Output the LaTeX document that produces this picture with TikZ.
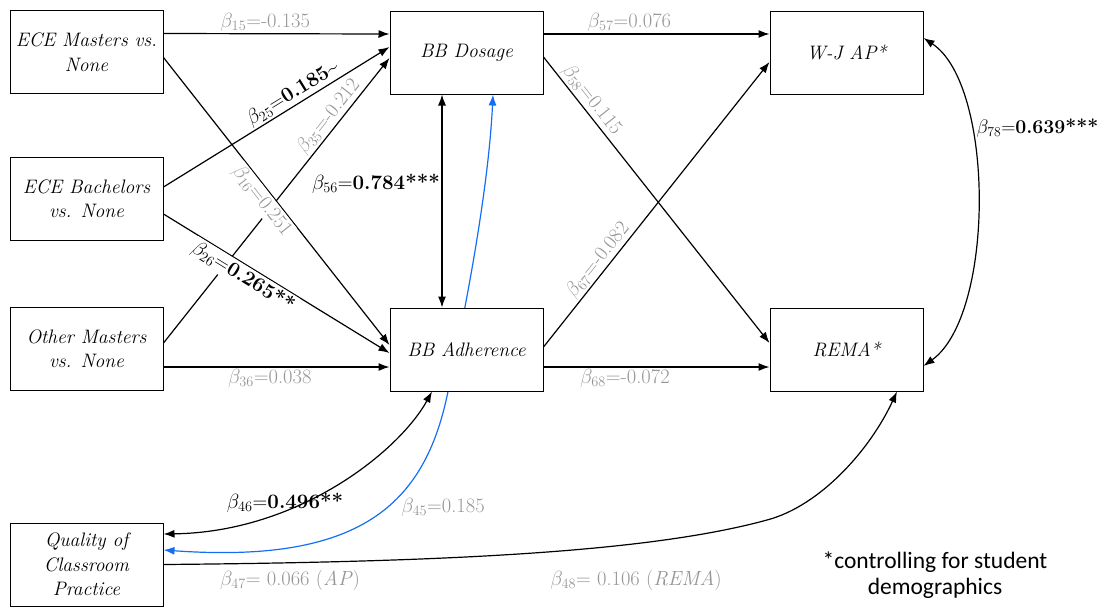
\RequirePackage{fix-cm}
\documentclass[tikz,border=0pt]{standalone}
\usepackage{fontspec}
\newfontfamily\notefont{Carlito}
\usetikzlibrary{arrows.meta,backgrounds}
\definecolor{lbl}{RGB}{150,150,150}
\definecolor{bluepath}{RGB}{20,110,245}
% coefficient symbol with a subscript index
\newcommand{\bsub}[1]{$\beta_{#1}$}
\begin{document}
\begin{tikzpicture}[x=1pt,y=-1pt,
  >={Latex[length=11pt,width=8pt]},
  box/.style={draw, line width=1pt, fill=white, minimum width=153pt, minimum height=83pt,
    inner sep=1pt, align=center, font=\fontsize{19.5}{24.5}\selectfont\itshape},
  conn/.style={line width=1.2pt},
  lab/.style={font=\fontsize{20.5}{22}\selectfont, text=lbl, inner sep=1.5pt},
  sig/.style={font=\fontsize{20.5}{22}\selectfont, text=black, inner sep=1.5pt},
  notetext/.style={font=\notefont\fontsize{23.5}{26}\selectfont, align=center}]
\useasboundingbox (0,0) rectangle (1103,606);

% variables
\node[box] (m1) at (86.5,52) {ECE Masters vs.\\None};
\node[box] (b1) at (86.5,198.5) {ECE Bachelors\\vs. None};
\node[box] (o1) at (86.5,348.5) {Other Masters\\vs. None};
\node[box] (q) at (86.5,564.5) {Quality of\\Classroom\\Practice};
\node[box] (dos) at (466.5,52.5) {BB Dosage};
\node[box] (adh) at (466.5,349.5) {BB Adherence};
\node[box] (wj) at (846.5,52.5) {W-J AP*};
\node[box] (rema) at (846.5,349.5) {REMA*};

% paths into BB Dosage
\draw[conn,->] ([yshift=18.5]m1.east) -- node[lab, above, pos=0.45] {\bsub{15}=-0.135} ([yshift=18.5]dos.west);
\draw[conn,->] ([yshift=5.5]o1.east) -- node[lab, sloped, above, pos=0.77] {\bsub{35}=-0.212} ([yshift=-5.5]dos.west);
\draw[conn,->] ([yshift=11.5]b1.east) -- node[sig, sloped, above, pos=0.6] {\bsub{25}=\textbf{0.185\textasciitilde}} ([yshift=5.5]dos.west);

% paths into BB Adherence
\draw[conn,->] ([yshift=-5.5]m1.east) -- node[lab, sloped, below, pos=0.475, fill=white] {\bsub{16}=0.251} ([yshift=4.5]adh.west);
\draw[conn,->] ([yshift=-15.5]b1.east) -- node[sig, sloped, below, pos=0.38, fill=white] {\bsub{26}=\textbf{0.265**}} ([yshift=-3.5]adh.west);
\draw[conn,->] ([yshift=-18.5]o1.east) -- node[lab, below, pos=0.47] {\bsub{36}=0.038} ([yshift=-17.5]adh.west);

% dosage -- adherence
\draw[conn,<->] ([xshift=-24.5]dos.south) -- node[sig, left, pos=0.42] {\bsub{56}=\textbf{0.784***}} ([xshift=-24.5]adh.north);

% paths into the outcomes
\draw[conn,->] ([yshift=18.5]dos.east) -- node[lab, above, pos=0.38] {\bsub{57}=0.076} ([yshift=18.5]wj.west);
\draw[conn,->] ([yshift=-4.5]dos.east) -- node[lab, sloped, above, pos=0.175] {\bsub{58}=0.115} ([yshift=6.5]rema.west);
\draw[conn,->] ([yshift=2.5]adh.east) -- node[lab, sloped, above, pos=0.28] {\bsub{67}=-0.082} ([yshift=-9.5]wj.west);
\draw[conn,->] ([yshift=-17.5]adh.east) -- node[lab, below, pos=0.36] {\bsub{68}=-0.072} ([yshift=-17.5]rema.west);

% outcome covariance
\draw[conn,<->] ([yshift=14.5]wj.east) .. controls (995,85) and (995,315) .. ([yshift=-16.5]rema.east);
\node[sig, anchor=west, font=\fontsize{19.5}{22}\selectfont] (l78) at (975,128) {\bsub{78}=\textbf{0.639***}};

% classroom practice paths
\begin{pgfonlayer}{background}
\draw[conn, bluepath, <->] ([yshift=14.5]q.east) .. controls (360,564) and (425,505) .. ([xshift=-18.5]adh.south)
  .. controls (460,334) and (488,200) .. ([xshift=26.5]dos.south);
\end{pgfonlayer}
\draw[conn,<->] ([yshift=30.5]q.east) .. controls (300,532) and (400,450) .. ([xshift=-34.5]adh.south);
\coordinate (qbend) at (767,520);
\draw[conn,->] (q.east) .. controls (450,562) and (650,552) .. (qbend)
  .. controls (820,506) and (870,450) .. ([xshift=50.5]rema.south);

\node[sig] (l46) at (285,503) {\bsub{46}=\textbf{0.496**}};
\node[lab] (l45) at (443,507) {\bsub{45}=0.185};
\node[lab] (l47) at (290,580) {\bsub{47}= 0.066 (\textit{AP})};
\node[lab] (l48) at (636,580) {\bsub{48}= 0.106 (\textit{REMA})};

\node[notetext] (note) at (935,575) {*controlling for student\\demographics};
\end{tikzpicture}
\end{document}
